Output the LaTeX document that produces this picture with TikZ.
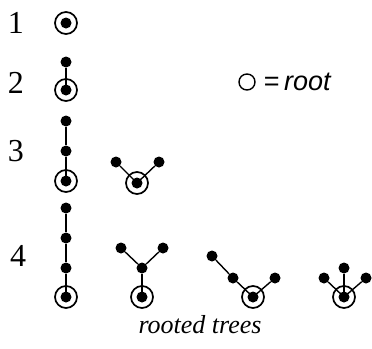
\documentclass[tikz,border=0pt]{standalone}
\usepackage{fontspec}
\setmainfont{Liberation Serif}
\newfontfamily\legfont{Liberation Sans}
\usetikzlibrary{positioning, calc}
\tikzset{
  vtx/.style={circle, fill=black, inner sep=0pt, minimum size=11pt},
  rootv/.style={circle, draw=black, line width=1.7pt, inner sep=0pt, minimum size=22pt,
                path picture={\fill[black] (path picture bounding box.center) circle (5.5pt);}},
  edge/.style={line width=1.4pt},
  numlab/.style={font=\fontsize{32}{34}\selectfont, inner sep=0pt},
}

\begin{document}
\begin{tikzpicture}[x=1pt, y=-1pt]
  \useasboundingbox[fill=white] (0,0) rectangle (372,348);

  % --- orders ---------------------------------------------------------
  \node[numlab] (n1) at (16,23)  {1};
  \node[numlab] (n2) at (16,83)  {2};
  \node[numlab] (n3) at (16,151) {3};
  \node[numlab] (n4) at (18,256) {4};

  % --- order 1 --------------------------------------------------------
  \node[rootv] (ra) at (66,23) {};

  % --- order 2 --------------------------------------------------------
  \node[rootv] (rb) at (66,90) {};
  \node[vtx]   (b1) at (66,62) {};
  \draw[edge] (b1) -- (rb.center);

  % --- order 3 --------------------------------------------------------
  \node[rootv] (rc) at (66,181) {};
  \node[vtx]   (c1) at (66,151) {};
  \node[vtx]   (c2) at (66,121) {};
  \draw[edge] (c2) -- (c1) -- (rc.center);

  \node[rootv] (rd) at (137,183) {};
  \node[vtx]   (d1) at (116,162) {};
  \node[vtx]   (d2) at (159,162) {};
  \draw[edge] (d1) -- (rd.center) -- (d2);

  % --- order 4 --------------------------------------------------------
  \node[rootv] (re) at (66,297) {};
  \node[vtx]   (e1) at (66,268) {};
  \node[vtx]   (e2) at (66,238) {};
  \node[vtx]   (e3) at (66,208) {};
  \draw[edge] (e3) -- (e2) -- (e1) -- (re.center);

  \node[rootv] (rf) at (142,297) {};
  \node[vtx]   (f1) at (142,268) {};
  \node[vtx]   (f2) at (121,248) {};
  \node[vtx]   (f3) at (163,248) {};
  \draw[edge] (rf.center) -- (f1);
  \draw[edge] (f2) -- (f1) -- (f3);

  \node[rootv] (rg) at (253,297) {};
  \node[vtx]   (g1) at (233,278) {};
  \node[vtx]   (g2) at (212,256) {};
  \node[vtx]   (g3) at (275,278) {};
  \draw[edge] (g2) -- (g1) -- (rg.center) -- (g3);

  \node[rootv] (rh) at (344,297) {};
  \node[vtx]   (h1) at (324,278) {};
  \node[vtx]   (h2) at (344,268) {};
  \node[vtx]   (h3) at (366,278) {};
  \draw[edge] (h1) -- (rh.center) -- (h3);
  \draw[edge] (h2) -- (rh.center);

  % --- legend and caption ---------------------------------------------
  \node[circle, draw, line width=1.4pt, minimum size=16pt, inner sep=0pt] (leg) at (247,82) {};
  \node[right=8pt of leg, inner sep=0pt, font=\legfont\fontsize{27}{30}\selectfont] (legtxt) {=\,\textit{root}};
  \node[font=\itshape\fontsize{26}{30}\selectfont] (cap) at (200,325) {rooted trees};

\end{tikzpicture}
\end{document}
